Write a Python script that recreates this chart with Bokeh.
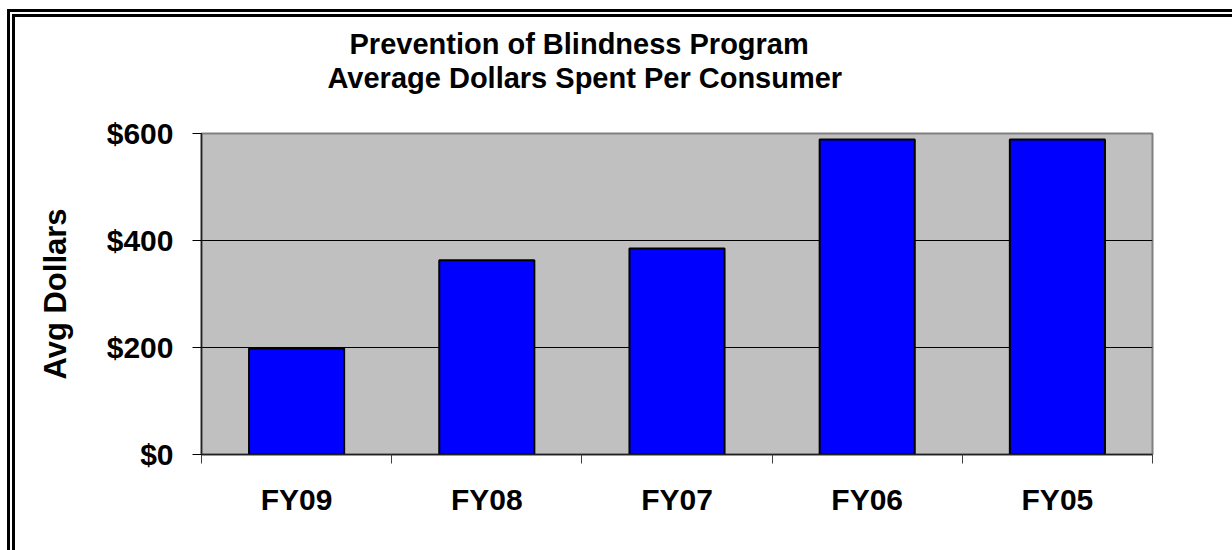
from bokeh.plotting import figure
from bokeh.models import (FixedTicker, LinearAxis, NumeralTickFormatter, Title,
                          ColumnDataSource)
from bokeh.embed import file_html
from bokeh.resources import INLINE

# ---- data ----
categories = ["FY09", "FY08", "FY07", "FY06", "FY05"]
avg_dollars = [198, 363, 385, 589, 589]
y_ticks = [0, 200, 400, 600]
title_lines = ["Prevention of Blindness Program", "Average Dollars Spent Per Consumer"]
y_label = "Avg Dollars"

FONT = "Liberation Sans"
FS = "30px"
TFS = "29px"

source = ColumnDataSource(dict(cat=categories, val=avg_dollars))

p = figure(x_range=categories, y_range=(0, 600),
           frame_width=951, frame_height=321,
           min_border_left=186, min_border_right=80,
           min_border_top=116, min_border_bottom=96,
           x_axis_location=None, y_axis_location="left",
           output_backend="svg", toolbar_location=None, tools="")

p.styles = {"border-left": "8px double black", "border-top": "8px double black",
            "margin-left": "7px", "margin-top": "9px"}

p.background_fill_color = "#C0C0C0"
p.border_fill_color = "white"
p.outline_line_color = "#808080"
p.outline_line_width = 2

p.vbar(x="cat", top="val", width=0.5, source=source,
       fill_color="#0000FF", line_color="black", line_width=2)

# y axis
yax = p.yaxis[0]
yax.ticker = FixedTicker(ticks=y_ticks)
yax.formatter = NumeralTickFormatter(format="$0,0")
yax.major_tick_out = 9
yax.major_tick_in = 0
yax.minor_tick_line_color = None
yax.axis_line_color = "#202020"
yax.axis_line_width = 1.5
yax.major_tick_line_color = "black"
yax.major_label_text_font = FONT
yax.major_label_text_font_size = FS
yax.major_label_text_font_style = "bold"
yax.major_label_text_color = "black"
yax.major_label_standoff = 19
yax.axis_label = y_label
yax.axis_label_text_font = FONT
yax.axis_label_text_font_size = "31px"
yax.axis_label_text_font_style = "bold"
yax.axis_label_text_color = "black"
yax.axis_label_standoff = 31

# x axis: labels at category centres, tick marks at category boundaries
n = len(categories)
centres = [i + 0.5 for i in range(n)]
bounds = [float(i) for i in range(n + 1)]
xax = LinearAxis(ticker=FixedTicker(ticks=centres, minor_ticks=bounds))
xax.major_label_overrides = {c: lab for c, lab in zip(centres, categories)}
xax.major_tick_out = 0
xax.major_tick_in = 0
xax.minor_tick_out = 9
xax.minor_tick_in = 0
xax.minor_tick_line_color = "#404040"
xax.axis_line_color = "#202020"
xax.axis_line_width = 1.5
xax.major_label_text_font = FONT
xax.major_label_text_font_size = FS
xax.major_label_text_font_style = "bold"
xax.major_label_text_color = "black"
xax.major_label_standoff = 19
p.add_layout(xax, "below")

# grid
p.xgrid.grid_line_color = None
p.ygrid.ticker = FixedTicker(ticks=y_ticks)
p.ygrid.grid_line_color = "black"
p.ygrid.grid_line_width = 1

# two-line title, centred a little left of the plot area
p.title.visible = False
# invisible spacer between the plot area and the title block
p.add_layout(Title(text=" ", text_font=FONT, text_font_size=TFS,
                   text_color="white", standoff=6), "above")
for txt, off in [(title_lines[1], 126), (title_lines[0], 148)]:
    p.add_layout(Title(text=txt, align="left", offset=off, text_font=FONT,
                       text_font_size=TFS, text_font_style="bold",
                       text_color="black", standoff=0), "above")

open("out.html", "w").write(file_html(p, INLINE))
